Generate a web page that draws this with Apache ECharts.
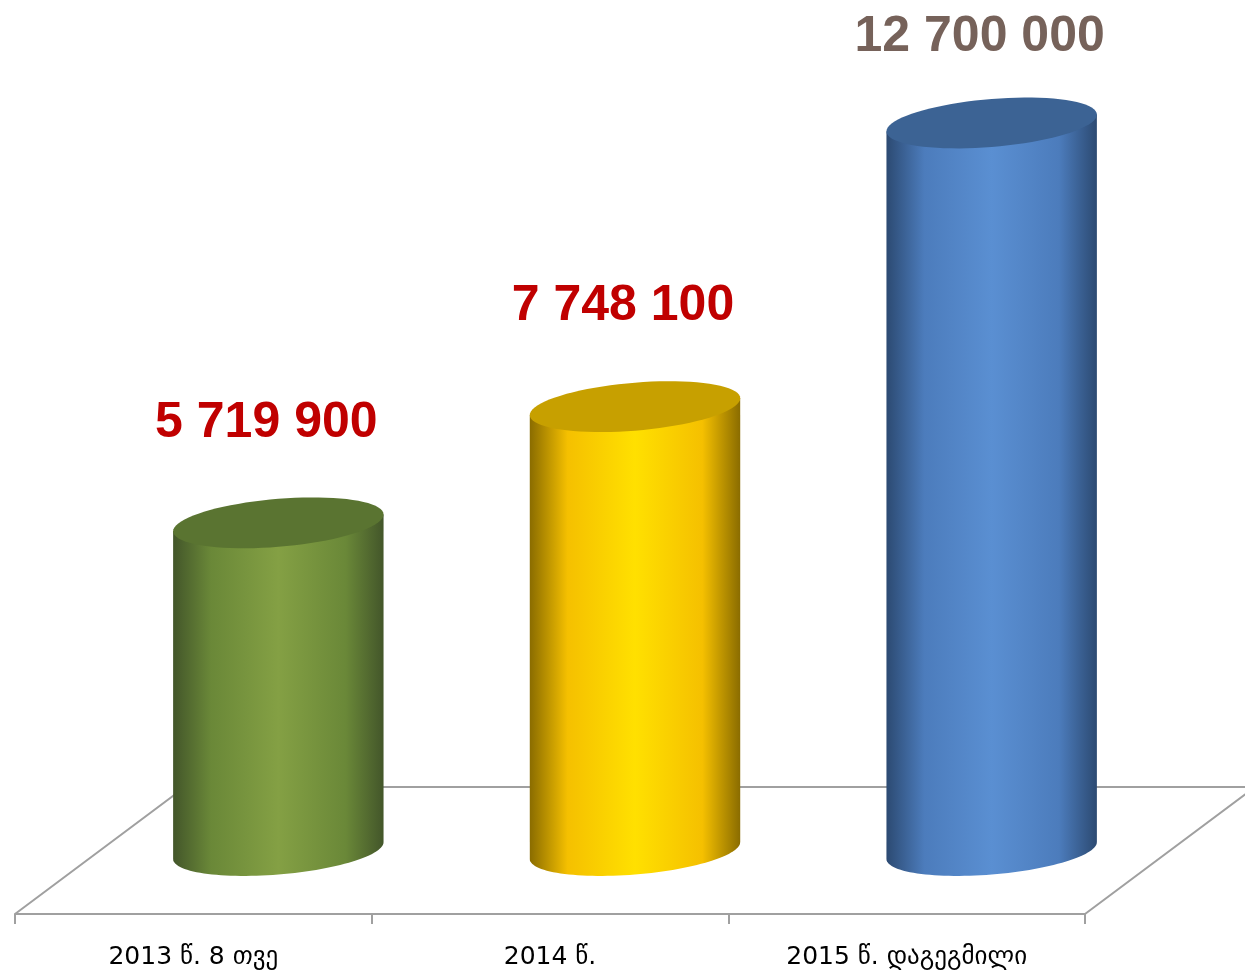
<!DOCTYPE html>
<html>
<head>
<meta charset="utf-8">
<title>cylinders</title>
<script src="https://cdn.jsdelivr.net/npm/echarts@6/dist/echarts.min.js"></script>
<style>
    html, body { margin: 0; padding: 0; background: #fff; }
    #main { width: 1245px; height: 974px; }
</style>
</head>
<body>
<div id="main"></div>
<script>
//data
var categories = ['2013 წ. 8 თვე', '2014 წ.', '2015 წ. დაგეგმილი'];
var values = [5719900, 7748100, 12700000];

//styles per bar: [edge, mid, light, top]
var barColors = [
    ['#43562a', '#6a8838', '#84a044', '#5a7431'],
    ['#8a6c00', '#f5c000', '#ffe000', '#c7a000'],
    ['#2c4a72', '#4c7cbc', '#5a8fd2', '#3c6394']
];
var labelColors = ['#c00000', '#c00000', '#76625a'];

var depthX = 170;      //floor depth, horizontal
var depthY = -127;     //floor depth, vertical
var shear = 0.08;      //slant of ellipses
var ry = 24;           //ellipse half height

function fmt(v) {
    return String(v).replace(/\B(?=(\d{3})+(?!\d))/g, ' ');
}

function ellipsePts(cx, cy, rx, from, to, n) {
    var pts = [];
    for (var i = 0; i <= n; i++) {
        var t = from + (to - from) * i / n;
        var dx = rx * Math.cos(t);
        pts.push([cx + dx, cy + ry * Math.sin(t) - shear * dx]);
    }
    return pts;
}

function renderFloor(params, api) {
    var cs = params.coordSys;
    var x0 = cs.x, x1 = cs.x + cs.width, y0 = cs.y + cs.height;
    var line = { stroke: '#a0a0a0', lineWidth: 2, fill: null };
    return {
        type: 'group',
        children: [
            { type: 'polyline', shape: { points: [[x0, y0], [x0 + depthX, y0 + depthY], [x1 + depthX, y0 + depthY], [x1, y0]] }, style: line }
        ]
    };
}

function renderCylinder(params, api) {
    var idx = api.value(0);
    var base = api.coord([idx, 0]);
    var top = api.coord([idx, api.value(1)]);
    var band = api.size([1, 0])[0];
    var rx = band * 0.295;
    var cx = base[0] + depthX / 2;
    var by = base[1] + depthY / 2;
    var ty = top[1] + depthY / 2;
    var c = barColors[idx];

    var body = [[cx - rx, ty + shear * rx], [cx + rx, ty - shear * rx]]
        .concat(ellipsePts(cx, by, rx, 0, Math.PI, 60));
    var grad = new echarts.graphic.LinearGradient(0, 0, 1, 0, [
        { offset: 0, color: c[0] },
        { offset: 0.18, color: c[1] },
        { offset: 0.5, color: c[2] },
        { offset: 0.82, color: c[1] },
        { offset: 1, color: c[0] }
    ]);
    var labelY = Math.max(ty - 100, 37);
    return {
        type: 'group',
        children: [
            { type: 'polygon', shape: { points: body }, style: { fill: grad } },
            { type: 'polygon', shape: { points: ellipsePts(cx, ty, rx, 0, Math.PI * 2, 80) }, style: { fill: c[3] } },
            {
                type: 'text',
                style: {
                    text: fmt(api.value(1)),
                    x: cx - 12,
                    y: labelY,
                    align: 'center',
                    verticalAlign: 'middle',
                    fill: labelColors[idx],
                    font: 'bold 50px "Liberation Sans", Arial, sans-serif'
                }
            }
        ]
    };
}

var chart = echarts.init(document.getElementById('main'));
var option = {
    animation: false,
    grid: { left: 15, right: 160, top: 112, bottom: 60 },
    xAxis: {
        type: 'category',
        data: categories,
        axisLine: { lineStyle: { color: '#a0a0a0', width: 2 } },
        axisTick: { show: true, length: 10, lineStyle: { color: '#a0a0a0', width: 2 } },
        axisLabel: {
            color: '#000',
            fontSize: 25,
            fontFamily: '"DejaVu Sans", sans-serif',
            margin: 31
        }
    },
    yAxis: {
        type: 'value',
        min: 0,
        max: 14000000,
        show: false
    },
    series: [
        {
            type: 'custom',
            renderItem: renderFloor,
            data: [[0, 0]],
            silent: true
        },
        {
            type: 'custom',
            renderItem: renderCylinder,
            data: values.map(function (v, i) { return [i, v]; })
        }
    ]
};
chart.setOption(option);
</script>
</body>
</html>
